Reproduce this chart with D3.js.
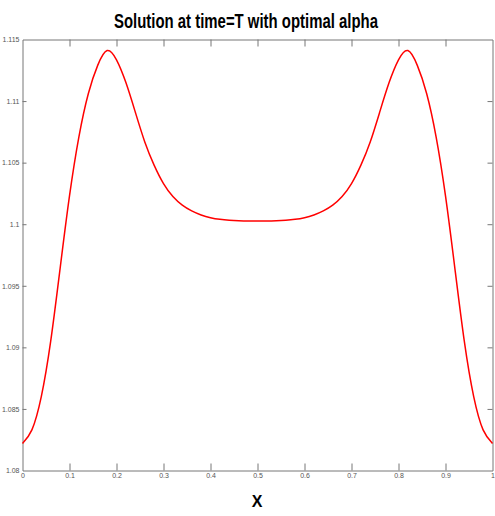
<!DOCTYPE html>
<html>
<head>
<meta charset="utf-8">
<script src="https://cdn.jsdelivr.net/npm/d3@7"></script>
<style>
  body { margin: 0; background: #fff; }
  svg { display: block; }
  .tick text { fill: #555; font-family: "Liberation Sans Narrow", "Liberation Sans", sans-serif; font-size: 7px; }
  .domain, .tick line { stroke: #777; }
</style>
</head>
<body>
<svg id="chart" width="495" height="516"></svg>
<script>
// solution at time T
const xValues = [
  0, 0.02, 0.04, 0.06, 0.08, 0.10, 0.12, 0.14, 0.16, 0.18,
  0.20, 0.22, 0.24, 0.26, 0.28, 0.30, 0.32, 0.34, 0.36, 0.38,
  0.40, 0.42, 0.44, 0.46, 0.48, 0.50, 0.52, 0.54, 0.56, 0.58,
  0.60, 0.62, 0.64, 0.66, 0.68, 0.70, 0.72, 0.74, 0.76, 0.78,
  0.80, 0.82, 0.84, 0.86, 0.88, 0.90, 0.92, 0.94, 0.96, 0.98, 1
];
const uValues = [
  1.0822, 1.0833, 1.0860, 1.0905, 1.0964, 1.1023, 1.1071, 1.1106, 1.1129, 1.1141,
  1.11335, 1.1115, 1.1091, 1.1067, 1.1048, 1.1033, 1.10225, 1.10155, 1.10108, 1.10075,
  1.10053, 1.1004, 1.10033, 1.10029, 1.10027, 1.10027, 1.10027, 1.10029, 1.10033, 1.1004,
  1.10053, 1.10075, 1.10108, 1.10155, 1.10225, 1.1033, 1.1048, 1.1067, 1.1091, 1.1115,
  1.11335, 1.1141, 1.1129, 1.1106, 1.1071, 1.1023, 1.0964, 1.0905, 1.0860, 1.0833, 1.0822
];
const xTicks = [0, 0.1, 0.2, 0.3, 0.4, 0.5, 0.6, 0.7, 0.8, 0.9, 1];
const yTicks = [1.08, 1.085, 1.09, 1.095, 1.1, 1.105, 1.11, 1.115];

const svg = d3.select('#chart');
const m = {left: 22.5, right: 492.5, top: 39.5, bottom: 470.5};

const x = d3.scaleLinear().domain([0, 1]).range([m.left, m.right]);
const y = d3.scaleLinear().domain([1.08, 1.115]).range([m.bottom, m.top]);

const fmt = (d) => String(+d.toFixed(3));

// box with inward ticks on all four sides
svg.append('g')
    .attr('transform', `translate(0,${m.bottom})`)
    .call(d3.axisBottom(x).tickValues(xTicks).tickFormat(fmt)
        .tickSizeInner(-7).tickSizeOuter(0).tickPadding(3));
svg.append('g')
    .attr('transform', `translate(0,${m.top})`)
    .call(d3.axisTop(x).tickValues(xTicks).tickFormat('')
        .tickSizeInner(-7).tickSizeOuter(0));
svg.append('g')
    .attr('transform', `translate(${m.left},0)`)
    .call(d3.axisLeft(y).tickValues(yTicks).tickFormat(fmt)
        .tickSizeInner(-4).tickSizeOuter(0).tickPadding(3));
svg.append('g')
    .attr('transform', `translate(${m.right},0)`)
    .call(d3.axisRight(y).tickValues(yTicks).tickFormat('')
        .tickSizeInner(-5).tickSizeOuter(0));

svg.selectAll('.tick').filter((d) => d === 0 || d === 1 || d === 1.08 || d === 1.115)
    .select('line').attr('stroke-opacity', 0);

svg.append('path')
    .datum(xValues.map((d, i) => [d, uValues[i]]))
    .attr('fill', 'none')
    .attr('stroke', '#ff0000')
    .attr('stroke-width', 1.5)
    .attr('d', d3.line().x((d) => x(d[0])).y((d) => y(d[1])).curve(d3.curveNatural));

svg.append('text')
    .attr('x', 246)
    .attr('y', 28)
    .attr('text-anchor', 'middle')
    .attr('textLength', 264)
    .attr('lengthAdjust', 'spacingAndGlyphs')
    .style('font-family', '"Liberation Sans Narrow", "Liberation Sans", sans-serif')
    .style('font-weight', 'bold')
    .style('font-size', '21px')
    .text('Solution at time=T with optimal alpha');

svg.append('text')
    .attr('x', 257)
    .attr('y', 507)
    .attr('text-anchor', 'middle')
    .style('font-family', '"Liberation Sans Narrow", "Liberation Sans", sans-serif')
    .style('font-weight', 'bold')
    .style('font-size', '16px')
    .text('X');
</script>
</body>
</html>
